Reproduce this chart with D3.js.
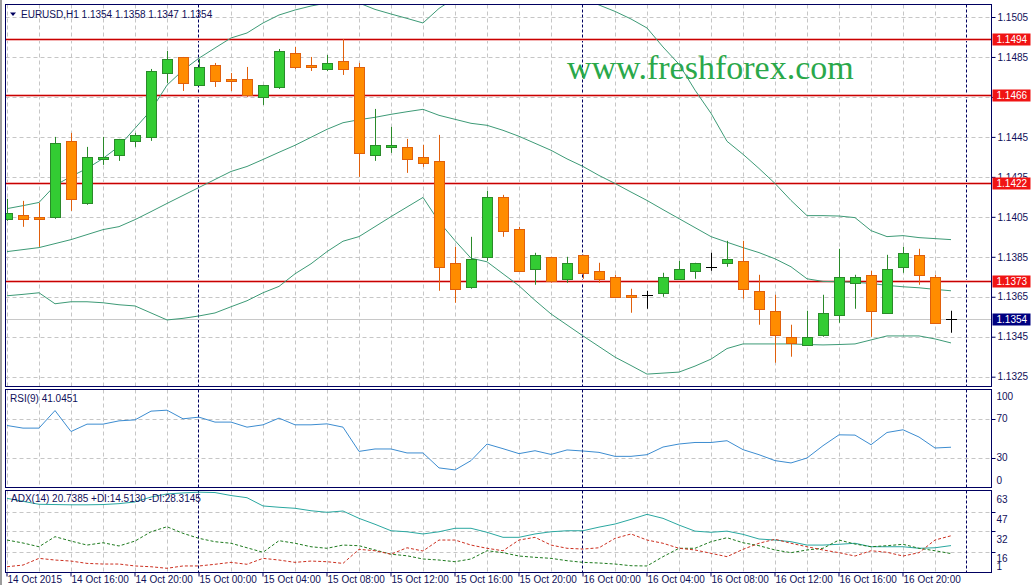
<!DOCTYPE html>
<html>
<head>
<meta charset="utf-8">
<script src="https://cdn.jsdelivr.net/npm/d3@7/dist/d3.min.js"></script>
<style>
  body { margin: 0; background: #fff; }
  svg { display: block; }
  text { font-family: "Liberation Sans", Arial, sans-serif; font-size: 10px; fill: #10105a; }
</style>
</head>
<body>
<div id="chart"></div>
<script>
// Kerzen EURUSD H1, 14 Oct 12:00 bis 16 Oct 23:00
const open  = [1.1404,1.1406,1.1405,1.1405,1.1443,1.1412,1.1434,1.1436,1.1443,1.1445,
               1.1477,1.1485,1.1471,1.1481,1.1474,1.1474,1.1465,1.1470,1.1487,1.1481,
               1.1479,1.1483,1.1480,1.1436,1.1440,1.1440,1.1435,1.1433,1.1382,1.1370,
               1.1385,1.1415,1.1399,1.1379,1.1385,1.1374,1.1386,1.1378,1.1375,1.1366,
               1.1366,1.1367,1.1374,1.1378,1.1380,1.1382,1.1383,1.1368,1.1358,1.1345,
               1.1341,1.1346,1.1356,1.1372,1.1376,1.1357,1.1380,1.1386,1.1375,1.1354];
const high  = [1.1414,1.1413,1.1412,1.1445,1.1447,1.1440,1.1445,1.1444,1.1447,1.1479,
               1.1488,1.1485,1.1484,1.1482,1.1477,1.1480,1.1471,1.1489,1.1490,1.1485,
               1.1486,1.1494,1.1482,1.1459,1.1450,1.1444,1.1441,1.1446,1.1390,1.1395,
               1.1418,1.1416,1.1400,1.1387,1.1385,1.1385,1.1386,1.1382,1.1376,1.1369,
               1.1368,1.1377,1.1383,1.1382,1.1387,1.1393,1.1393,1.1376,1.1366,1.1351,
               1.1358,1.1366,1.1389,1.1376,1.1378,1.1386,1.1390,1.1389,1.1376,1.1358];
const low   = [1.1403,1.1400,1.1390,1.1404,1.1408,1.1411,1.1431,1.1433,1.1440,1.1443,
               1.1472,1.1468,1.1471,1.1470,1.1468,1.1465,1.1461,1.1469,1.1479,1.1478,
               1.1478,1.1476,1.1425,1.1433,1.1437,1.1427,1.1430,1.1368,1.1362,1.1369,
               1.1383,1.1395,1.1378,1.1371,1.1372,1.1372,1.1374,1.1372,1.1365,1.1357,
               1.1359,1.1365,1.1374,1.1374,1.1378,1.1380,1.1364,1.1351,1.1332,1.1335,
               1.1341,1.1345,1.1352,1.1359,1.1345,1.1357,1.1377,1.1371,1.1352,1.1347];
const close = [1.1407,1.1404,1.1404,1.1442,1.1414,1.1435,1.1435,1.1444,1.1446,1.1478,
               1.1484,1.1472,1.1480,1.1473,1.1473,1.1466,1.1471,1.1488,1.1480,1.1480,
               1.1482,1.1479,1.1437,1.1441,1.1441,1.1434,1.1432,1.1380,1.1369,1.1384,
               1.1415,1.1398,1.1378,1.1386,1.1373,1.1382,1.1377,1.1374,1.1365,1.1365,
               1.1366,1.1375,1.1379,1.1382,1.1380,1.1384,1.1369,1.1359,1.1346,1.1342,
               1.1345,1.1357,1.1375,1.1375,1.1358,1.1379,1.1387,1.1376,1.1352,1.1354];

// Bollinger Bänder
const bbUpper  = [1.14091,1.14106,1.14122,1.14207,1.14252,1.14292,1.14342,1.14403,1.14493,1.14583,
                  1.14709,1.14784,1.14844,1.14895,1.14945,1.14970,1.15020,1.15060,1.15085,1.15105,
                  1.15120,1.15125,1.15120,1.15088,1.15065,1.15043,1.15020,1.15093,1.15145,1.15190,
                  1.15195,1.15200,1.15200,1.15200,1.15200,1.15170,1.15150,1.15110,1.15078,1.15040,
                  1.14995,1.14900,1.14814,1.14684,1.14568,1.14428,1.14363,1.14292,1.14217,1.14132,
                  1.14056,1.14056,1.14054,1.14046,1.13981,1.13951,1.13956,1.13946,1.13941,1.13936];
const bbMiddle = [1.13876,1.13886,1.13896,1.13916,1.13936,1.13961,1.13986,1.14001,1.14036,1.14076,
                  1.14117,1.14157,1.14197,1.14237,1.14277,1.14302,1.14337,1.14373,1.14408,1.14448,
                  1.14488,1.14521,1.14536,1.14548,1.14563,1.14576,1.14588,1.14558,1.14538,1.14518,
                  1.14508,1.14483,1.14453,1.14418,1.14383,1.14340,1.14302,1.14257,1.14217,1.14174,
                  1.14132,1.14086,1.14041,1.13996,1.13951,1.13923,1.13896,1.13871,1.13840,1.13800,
                  1.13740,1.13727,1.13725,1.13722,1.13717,1.13707,1.13700,1.13695,1.13687,1.13680];
const bbLower  = [1.13655,1.13662,1.13670,1.13615,1.13625,1.13625,1.13620,1.13610,1.13604,1.13569,
                  1.13534,1.13542,1.13554,1.13569,1.13600,1.13630,1.13670,1.13702,1.13765,1.13815,
                  1.13876,1.13928,1.13951,1.14001,1.14051,1.14099,1.14147,1.14026,1.13931,1.13843,
                  1.13825,1.13765,1.13705,1.13632,1.13564,1.13509,1.13454,1.13401,1.13348,1.13306,
                  1.13263,1.13268,1.13273,1.13303,1.13338,1.13391,1.13414,1.13414,1.13414,1.13414,
                  1.13411,1.13409,1.13411,1.13414,1.13434,1.13454,1.13454,1.13454,1.13439,1.13419];

// RSI(9)
const rsi = [63.4,60.7,60.7,78.8,57.2,64.8,64.8,68.2,69.2,78.2,
             79.2,70.3,72.0,66.9,66.9,61.7,64.1,71.0,64.1,64.1,
             65.1,61.7,36.7,39.2,39.2,35.1,35.1,19.7,17.6,27.2,
             44.3,39.5,34.4,37.4,33.6,38.2,37.1,35.7,31.6,31.6,
             33.3,41.2,44.3,45.9,45.9,47.7,38.5,33.3,27.2,24.8,
             29.9,42.6,53.8,53.5,43.6,56.2,59.0,51.5,40.2,41.0];

// ADX(14), +DI, -DI
const adx = [57.3,55.0,52.7,52.5,52.3,52.3,52.5,53.2,54.5,58.3,
             60.7,61.5,62.1,61.8,59.5,57.8,51.4,50.4,49.6,47.7,
             46.5,47.5,41.8,37.2,32.2,31.4,29.7,31.4,34.1,34.1,
             31.0,27.1,27.1,29.7,31.4,32.2,32.2,35.0,37.4,41.0,
             44.9,41.8,36.6,31.9,31.0,31.9,29.4,25.8,25.0,23.7,
             21.1,21.1,21.7,22.5,19.8,19.8,19.8,18.6,19.0,20.7];
const plusDI = [25.0,22.7,19.8,27.6,24.2,21.1,22.9,20.4,24.2,31.4,
                35.3,30.2,26.3,23.7,22.5,19.0,15.5,24.5,22.5,19.8,
                18.6,21.1,20.6,17.3,14.0,12.8,10.3,9.5,8.2,10.3,
                16.7,15.2,12.6,11.6,10.8,9.0,7.7,7.2,6.4,5.1,
                4.9,12.1,18.6,18.6,23.7,26.8,22.9,20.6,17.3,15.2,
                17.3,18.6,25.0,21.9,19.8,20.6,21.7,18.6,16.7,14.5];
const minusDI = [4.3,5.6,10.8,9.5,8.7,6.9,6.4,6.4,4.9,4.3,
                 3.1,4.9,4.9,6.2,7.7,6.2,10.8,9.5,7.7,8.7,
                 8.2,6.9,17.8,16.7,14.0,19.0,16.5,25.0,25.0,21.1,
                 18.6,16.7,25.0,27.1,21.1,18.6,18.0,19.0,26.3,29.7,
                 25.0,22.5,18.6,17.3,14.7,12.1,17.8,22.5,25.6,22.5,
                 19.8,17.3,15.2,12.6,16.7,15.5,12.6,15.2,25.0,28.3];

// Levels und Achsen
const levels = [1.1494, 1.1466, 1.1422, 1.1373];
const bid = 1.1354;
const priceTicks = [1.1505,1.1485,1.1465,1.1445,1.1425,1.1405,1.1385,1.1365,1.1345,1.1325];
const rsiTicks = [100, 70, 30, 0];
const rsiLevels = [70, 30];
const adxTicks = [63, 47, 32, 16, 1];
const adxGrid = [47, 32, 16];
const timeTickIdx = [0,4,8,12,16,20,24,28,32,36,40,44,48,52,56];
const timeLabels = ["14 Oct 2015","14 Oct 16:00","14 Oct 20:00","15 Oct 00:00","15 Oct 04:00",
                    "15 Oct 08:00","15 Oct 12:00","15 Oct 16:00","15 Oct 20:00","16 Oct 00:00",
                    "16 Oct 04:00","16 Oct 08:00","16 Oct 12:00","16 Oct 16:00","16 Oct 20:00"];
const daySepIdx = [12, 36, 60];

// Layout
const W = 1033, H = 585;
const L = 5.5, R = 991.5;
const panels = {
  main: { top: 4.5, bottom: 386.5 },
  rsi:  { top: 389.5, bottom: 487.5 },
  adx:  { top: 490.5, bottom: 572.5 }
};
const navy = "#000060";
const gridCol = "#c6c6c6";
const fontFam = '"Liberation Sans", Arial, sans-serif';

const svg = d3.select("#chart").append("svg").attr("width", W).attr("height", H);
svg.append("rect").attr("width", W).attr("height", H).attr("fill", "#fff");
svg.append("line").attr("x1", 1).attr("x2", 1).attr("y1", 0).attr("y2", H)
  .attr("stroke", "#9c9c9c").attr("stroke-width", 2);

const x = d3.scaleLinear().domain([0, 59]).range([7, 951]);
const yP = d3.scaleLinear().domain([1.1325, 1.1505]).range([376.7, 17]);
const yR = d3.scaleLinear().domain([0, 100]).range([487, 390]);
const yA = d3.scaleLinear().domain([1, 63]).range([571, 491]);
const crisp = v => Math.round(v) + 0.5;

// Clips
Object.entries(panels).forEach(([k, p]) => {
  svg.append("clipPath").attr("id", "clip-" + k)
    .append("rect").attr("x", L).attr("y", p.top).attr("width", R - L).attr("height", p.bottom - p.top);
});

const gMain = svg.append("g").attr("clip-path", "url(#clip-main)");
const gRsi = svg.append("g").attr("clip-path", "url(#clip-rsi)");
const gAdx = svg.append("g").attr("clip-path", "url(#clip-adx)");
const allPanels = [[gMain, panels.main], [gRsi, panels.rsi], [gAdx, panels.adx]];

// vertikales Gitter (alle 2 Bars) in allen Panels
const vGrid = d3.range(0, 61, 2).filter(i => !daySepIdx.includes(i));
allPanels.forEach(([g, p]) => {
  g.append("g").selectAll("line").data(vGrid).enter().append("line")
    .attr("x1", d => x(d) + 0.5).attr("x2", d => x(d) + 0.5)
    .attr("y1", p.top).attr("y2", p.bottom)
    .attr("stroke", gridCol).attr("stroke-dasharray", "4,3");
});

// horizontales Gitter
[[gMain, priceTicks, yP], [gRsi, rsiLevels, yR], [gAdx, adxGrid, yA]].forEach(([g, vals, sc]) => {
  g.append("g").selectAll("line").data(vals).enter().append("line")
    .attr("x1", L).attr("x2", R).attr("y1", d => crisp(sc(d))).attr("y2", d => crisp(sc(d)))
    .attr("stroke", gridCol).attr("stroke-dasharray", "4,3");
});

// Tagestrenner
allPanels.forEach(([g, p]) => {
  g.append("g").selectAll("line").data(daySepIdx).enter().append("line")
    .attr("x1", d => x(d) - 0.5).attr("x2", d => x(d) - 0.5)
    .attr("y1", p.top).attr("y2", p.bottom)
    .attr("stroke", navy).attr("stroke-dasharray", "3,2");
});

// Wasserzeichen
gMain.append("text").attr("x", 567).attr("y", 79)
  .style("font-family", '"Liberation Serif", "Times New Roman", serif')
  .style("font-size", "34px").style("fill", "#2aa84a")
  .text("www.freshforex.com");

// Bid-Linie
gMain.append("line").attr("x1", L).attr("x2", R)
  .attr("y1", crisp(yP(bid))).attr("y2", crisp(yP(bid)))
  .attr("stroke", "#c8c8c8");

// Levels (rote Linien mit weichem Rand wie im Original)
const lvl = gMain.append("g");
lvl.selectAll(".halo").data(levels).enter().append("line")
  .attr("x1", L).attr("x2", R)
  .attr("y1", d => crisp(yP(d))).attr("y2", d => crisp(yP(d)))
  .attr("stroke", "#f3b4b4").attr("stroke-width", 3);
lvl.selectAll(".core").data(levels).enter().append("line")
  .attr("x1", L).attr("x2", R)
  .attr("y1", d => crisp(yP(d))).attr("y2", d => crisp(yP(d)))
  .attr("stroke", "#c80000").attr("stroke-width", 1.2);

// Bollinger
const bbLine = d3.line().x((d, i) => x(i)).y(d => yP(d));
[bbUpper, bbMiddle, bbLower].forEach(arr => {
  gMain.append("path").datum(arr).attr("d", bbLine)
    .attr("fill", "none").attr("stroke", "#3d9a76").attr("stroke-width", 1);
});

// Kerzen
const bars = d3.range(open.length).map(i => ({ i, o: open[i], h: high[i], l: low[i], c: close[i] }));
const colOf = d => d.c > d.o ? { fill: "#33cc33", stroke: "#2a8a2a" }
                 : d.c < d.o ? { fill: "#ff8c00", stroke: "#e0600c" }
                 : { fill: "#000", stroke: "#000" };

const candle = gMain.append("g").selectAll("g").data(bars).enter().append("g");
candle.append("line")
  .attr("x1", d => x(d.i) + 0.5).attr("x2", d => x(d.i) + 0.5)
  .attr("y1", d => yP(d.h)).attr("y2", d => yP(d.l))
  .attr("stroke", d => colOf(d).stroke);
candle.filter(d => d.c !== d.o).append("rect")
  .attr("x", d => x(d.i) - 4.5)
  .attr("y", d => crisp(yP(Math.max(d.o, d.c))))
  .attr("width", 10)
  .attr("height", d => Math.max(1, Math.round(Math.abs(yP(d.o) - yP(d.c)))))
  .attr("fill", d => colOf(d).fill).attr("stroke", d => colOf(d).stroke);
candle.filter(d => d.c === d.o).append("line")
  .attr("x1", d => x(d.i) - 5).attr("x2", d => x(d.i) + 6)
  .attr("y1", d => crisp(yP(d.o))).attr("y2", d => crisp(yP(d.o)))
  .attr("stroke", "#000");

// RSI
gRsi.append("path").datum(rsi)
  .attr("d", d3.line().x((d, i) => x(i)).y(d => yR(d)))
  .attr("fill", "none").attr("stroke", "#3c8cd0");

// ADX
const adxLine = d3.line().x((d, i) => x(i)).y(d => yA(d));
gAdx.append("path").datum(adx).attr("d", adxLine)
  .attr("fill", "none").attr("stroke", "#2aa7a0");
gAdx.append("path").datum(plusDI).attr("d", adxLine)
  .attr("fill", "none").attr("stroke", "#1e7a1e").attr("stroke-dasharray", "3,2");
gAdx.append("path").datum(minusDI).attr("d", adxLine)
  .attr("fill", "none").attr("stroke", "#cc3020").attr("stroke-dasharray", "3,2");

// Panelrahmen
Object.values(panels).forEach(p => {
  svg.append("rect").attr("x", L).attr("y", p.top)
    .attr("width", R - L).attr("height", p.bottom - p.top)
    .attr("fill", "none").attr("stroke", navy);
});

// Panel-Beschriftungen
svg.append("path").attr("d", "M10,12.5 L16,12.5 L13,16 Z").attr("fill", navy);
svg.append("text").attr("x", 21).attr("y", 18).text("EURUSD,H1  1.1354 1.1358 1.1347 1.1354");
svg.append("text").attr("x", 10).attr("y", 402).text("RSI(9) 41.0451");
svg.append("text").attr("x", 11).attr("y", 502).text("ADX(14) 20.7385 +DI:14.5130 -DI:28.3145");

const styleAxisText = sel => sel.style("font-family", fontFam).style("font-size", "10px").attr("fill", "#10105a");

// Preisachse
const pAxis = svg.append("g").attr("transform", `translate(${R},0)`)
  .call(d3.axisRight(yP).tickValues(priceTicks).tickSize(4).tickPadding(2).tickFormat(d3.format(".4f")));
pAxis.select(".domain").remove();
pAxis.selectAll("line").attr("stroke", navy);
styleAxisText(pAxis.selectAll("text"));

// Level-Labels
const lab = svg.append("g");
levels.concat([bid]).forEach(v => {
  const yy = Math.round(yP(v));
  lab.append("rect").attr("x", R + 1).attr("y", yy - 5.5).attr("width", 38).attr("height", 12)
    .attr("fill", v === bid ? "#000080" : "#f01414");
  lab.append("text").attr("x", R + 5).attr("y", yy + 4).style("fill", "#fff").text(d3.format(".4f")(v));
});

// RSI-Achse
const rAxis = svg.append("g").attr("transform", `translate(${R},0)`)
  .call(d3.axisRight(yR).tickValues(rsiTicks).tickSize(0).tickPadding(5));
rAxis.select(".domain").remove();
styleAxisText(rAxis.selectAll("text"))
  .attr("dy", d => d === 100 ? "0.95em" : d === 0 ? "-0.4em" : "0.22em");
svg.append("g").selectAll("line").data(rsiLevels).enter().append("line")
  .attr("x1", R).attr("x2", R + 4).attr("y1", d => crisp(yR(d))).attr("y2", d => crisp(yR(d)))
  .attr("stroke", navy);

// ADX-Achse
const aAxis = svg.append("g").attr("transform", `translate(${R},0)`)
  .call(d3.axisRight(yA).tickValues(adxTicks).tickSize(0).tickPadding(5));
aAxis.select(".domain").remove();
styleAxisText(aAxis.selectAll("text"))
  .attr("dy", d => d === 1 ? "-0.15em" : d === 16 ? "1.0em" : "1.1em");
svg.append("g").selectAll("line").data(adxGrid).enter().append("line")
  .attr("x1", R).attr("x2", R + 4).attr("y1", d => crisp(yA(d))).attr("y2", d => crisp(yA(d)))
  .attr("stroke", navy);

// Zeitachse
const tAxis = svg.append("g").attr("transform", `translate(0,${panels.adx.bottom})`)
  .call(d3.axisBottom(x).tickValues(timeTickIdx).tickSize(4).tickPadding(1)
    .tickFormat((d, i) => timeLabels[i]));
tAxis.select(".domain").remove();
tAxis.selectAll("line").attr("stroke", navy).attr("transform", "translate(-0.5,0)");
styleAxisText(tAxis.selectAll("text"))
  .attr("text-anchor", "start").attr("dx", "0").attr("y", 3).attr("dy", "0.71em");
</script>
</body>
</html>
